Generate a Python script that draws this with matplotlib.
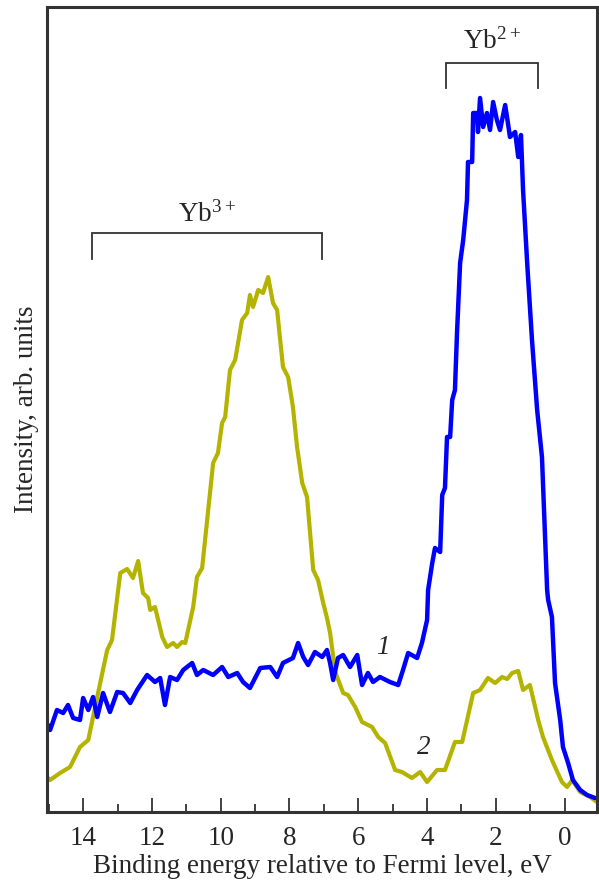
import matplotlib
matplotlib.use("Agg")
import matplotlib.pyplot as plt
from matplotlib.ticker import MultipleLocator

# Curve 2 (yellow): binding energy (eV) and intensity (arb. units)
energy_2 = [15.02, 14.96, 14.67, 14.38, 14.09, 13.85, 13.59, 13.30, 13.16, 12.92,
            12.72, 12.55, 12.40, 12.26, 12.11, 12.05, 11.91, 11.70, 11.56, 11.38,
            11.27, 11.12, 11.03, 10.80, 10.69, 10.54, 10.22, 10.08, 9.96, 9.87,
            9.73, 9.58, 9.38, 9.23, 9.15, 9.06, 8.91, 8.77, 8.62, 8.48,
            8.36, 8.19, 8.04, 7.90, 7.78, 7.63, 7.49, 7.31, 7.17, 7.02,
            6.91, 6.82, 6.67, 6.44, 6.30, 6.09, 5.89, 5.60, 5.42, 5.22,
            4.93, 4.73, 4.44, 4.20, 4.00, 3.71, 3.48, 3.19, 2.98, 2.66,
            2.46, 2.23, 2.02, 1.82, 1.67, 1.53, 1.35, 1.21, 1.01, 0.77,
            0.63, 0.37, 0.08, -0.07, -0.22, -0.45, -0.74, -0.94]
intensity_2 = [3.4, 3.2, 3.9, 4.5, 6.5, 7.2, 11.5, 16.2, 17.2, 23.9,
               24.3, 23.4, 25.1, 21.9, 21.4, 20.2, 20.5, 17.5, 16.5, 16.9,
               16.5, 17.0, 16.9, 20.5, 23.5, 24.4, 34.9, 35.9, 38.9, 39.5,
               44.2, 45.2, 49.2, 49.9, 51.7, 50.5, 52.2, 51.9, 53.5, 50.9,
               50.2, 44.5, 43.5, 40.5, 36.5, 32.9, 31.5, 24.2, 23.2, 20.9,
               19.4, 17.9, 14.0, 11.9, 11.7, 10.5, 9.0, 8.5, 7.5, 6.9,
               4.2, 4.0, 3.4, 4.0, 3.0, 4.2, 4.2, 7.0, 7.0, 11.9,
               12.2, 13.4, 12.9, 13.5, 13.3, 13.9, 14.1, 12.2, 12.7, 9.2,
               7.5, 5.2, 3.0, 2.5, 3.2, 2.0, 1.5, 1.0]

# Curve 1 (blue)
energy_1 = [15.02, 14.96, 14.76, 14.58, 14.44, 14.29, 14.09, 14.00, 13.85, 13.71,
            13.59, 13.42, 13.22, 13.01, 12.84, 12.63, 12.43, 12.14, 11.91, 11.76,
            11.62, 11.47, 11.27, 11.09, 10.83, 10.69, 10.51, 10.22, 9.96, 9.78,
            9.52, 9.35, 9.15, 8.85, 8.56, 8.36, 8.19, 7.90, 7.75, 7.60,
            7.46, 7.26, 7.05, 6.91, 6.82, 6.73, 6.59, 6.44, 6.24, 6.03,
            5.89, 5.72, 5.57, 5.37, 5.08, 4.84, 4.70, 4.55, 4.29, 4.15,
            4.00, 3.97, 3.85, 3.77, 3.62, 3.56, 3.48, 3.42, 3.33, 3.27,
            3.19, 3.13, 3.04, 2.95, 2.84, 2.81, 2.69, 2.66, 2.55, 2.52,
            2.46, 2.37, 2.26, 2.17, 2.08, 1.97, 1.88, 1.73, 1.65, 1.59,
            1.44, 1.35, 1.27, 1.21, 1.09, 0.95, 0.80, 0.66, 0.51, 0.48,
            0.37, 0.28, 0.13, 0.05, -0.10, -0.24, -0.45, -0.65, -0.88]
intensity_1 = [8.7, 8.2, 10.2, 9.9, 10.7, 9.4, 9.2, 11.4, 10.2, 11.5,
               9.5, 11.9, 10.0, 12.0, 11.9, 10.9, 12.2, 13.7, 13.0, 13.4,
               10.7, 13.5, 13.2, 14.2, 14.9, 13.7, 14.2, 13.7, 14.5, 13.5,
               13.9, 13.0, 12.4, 14.4, 14.5, 13.5, 14.9, 15.4, 16.9, 15.5,
               14.7, 16.0, 15.5, 16.2, 14.9, 13.2, 15.4, 15.7, 14.5, 15.7,
               12.7, 13.9, 13.0, 13.5, 13.0, 12.7, 14.2, 15.9, 15.4, 16.9,
               19.2, 22.2, 24.9, 26.4, 26.0, 31.7, 32.4, 37.5, 37.5, 41.2,
               42.2, 47.9, 54.9, 57.2, 61.2, 65.0, 65.0, 69.9, 69.9, 68.0,
               71.4, 68.5, 69.9, 68.2, 71.0, 69.2, 68.2, 70.7, 68.9, 67.5,
               68.0, 65.5, 67.7, 62.2, 54.9, 47.2, 40.2, 35.5, 22.2, 21.2,
               19.5, 12.9, 9.2, 6.5, 4.9, 3.2, 2.2, 1.7, 1.4]

# Annotation brackets: (left E, right E, top intensity, bottom intensity)
yb3_bracket = [13.74, 7.05, 57.9, 55.3]
yb2_bracket = [3.45, 0.77, 74.9, 72.4]

plt.rcParams['font.family'] = ['Liberation Serif', 'DejaVu Serif']
plt.rcParams['mathtext.fontset'] = 'custom'
plt.rcParams['mathtext.rm'] = 'Liberation Serif'
plt.rcParams['mathtext.default'] = 'regular'
text_color = '#262626'
fs = 19.5

fig = plt.figure(figsize=(5.99, 8.82), dpi=100)
ax = fig.add_axes([47/599, 70/882, 550/599, 805/882])

ax.plot(energy_2, intensity_2, color='#b4b400', lw=3.0,
        solid_joinstyle='round', solid_capstyle='round')
ax.plot(energy_1, intensity_1, color='#0000ff', lw=3.2,
        solid_joinstyle='round', solid_capstyle='round')

ax.set_xlim(15.05, -0.94)
ax.set_ylim(0, 80.5)

ax.xaxis.set_major_locator(MultipleLocator(2))
ax.xaxis.set_minor_locator(MultipleLocator(1))
ax.tick_params(axis='x', which='both', direction='in', top=False, bottom=True,
               colors='#333333', labelcolor=text_color, labelsize=fs, pad=10)
ax.tick_params(axis='x', which='major', length=10, width=1.3)
ax.tick_params(axis='x', which='minor', length=6, width=1.3)
ax.set_yticks([])
for sp in ax.spines.values():
    sp.set_color('#333333')
    sp.set_linewidth(2.2)

ax.set_xlabel('Binding energy relative to Fermi level, eV', fontsize=fs,
              color=text_color, labelpad=2)
ax.set_ylabel('Intensity, arb. units', fontsize=fs, color=text_color, labelpad=6)

# brackets
for (l, r, top, bot) in (yb3_bracket, yb2_bracket):
    ax.plot([l, l, r, r], [bot, top, top, bot], color='#333333', lw=1.3,
            solid_joinstyle='miter')

ax.text((yb3_bracket[0] + yb3_bracket[1]) / 2, 59.8, 'Yb$^{3+}$', ha='center',
        va='center', fontsize=fs, color=text_color)
ax.text((yb2_bracket[0] + yb2_bracket[1]) / 2, 77.1, 'Yb$^{2+}$', ha='center',
        va='center', fontsize=fs, color=text_color)

ax.text(5.28, 16.4, '1', ha='center', va='center', fontsize=fs,
        style='italic', color=text_color)
ax.text(4.09, 6.4, '2', ha='center', va='center', fontsize=fs,
        style='italic', color=text_color)

fig.savefig('out.png', dpi=100)
